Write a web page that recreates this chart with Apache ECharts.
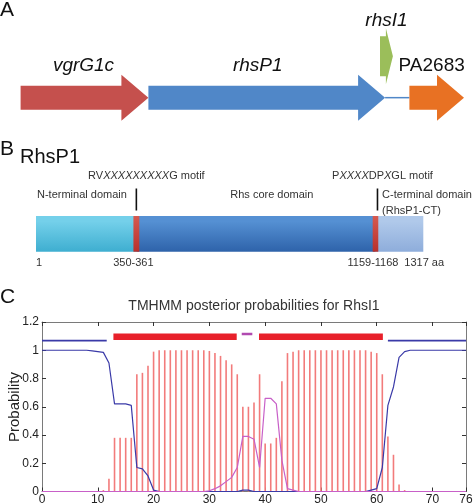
<!DOCTYPE html>
<html><head><meta charset="utf-8">
<script src="https://cdn.jsdelivr.net/npm/echarts@6/dist/echarts.min.js"></script>
<style>html,body{margin:0;padding:0;background:#fff}#c{width:474px;height:503px}</style>
</head><body><div id="c"></div>
<script>
// ---------- Panel A: gene neighbourhood (bp, approximate) ----------
const geneNames = ['vgrG1c', 'rhsP1', 'rhsI1', 'PA2683'];
const geneStart = [10, 2140, 6000, 6490];
const geneEnd   = [2140, 6085, 6215, 7400];
const geneRow   = [0, 0, 1, 0];
const spacerStart = [6085];
const spacerEnd   = [6490];

// ---------- Panel B: RhsP1 domains (aa) ----------
const domainNames = ['N-terminal domain', 'Rhs core domain', 'C-terminal domain'];
const domainStart = [1, 342, 1155];
const domainEnd   = [342, 1155, 1317];
const motifStart  = [332, 1145];
const motifEnd    = [352, 1164];
const proteinLength = 1317;

// ---------- Panel C: TMHMM posterior probabilities ----------
const positions = [0,1,2,3,4,5,6,7,8,9,10,11,12,13,14,15,16,17,18,19,20,21,22,23,24,25,26,27,28,29,30,31,32,33,34,35,36,37,38,39,40,41,42,43,44,45,46,47,48,49,50,51,52,53,54,55,56,57,58,59,60,61,62,63,64,65,66,67,68,69,70,71,72,73,74,75,76];
const tmProb = [0,0,0,0,0,0,0,0,0,0,0,0.01,0.09,0.38,0.38,0.38,0.38,0.83,0.84,0.89,0.99,
  1,1,1,1,1,1,1,1,1,0.995,0.98,0.96,0.93,0.90,0.83,0.60,0.60,0.63,0.83,0.34,0.34,0.38,0.78,0.98,0.99,
  1,1,1,1,1,1,1,1,1,1,1,1,1,0.99,0.98,0.83,0.39,0.26,0.05,0.01,0,0,0,0,0,0,0,0,0,0,0];
const outsideProb = [1,1,1,1,1,1,1,1,1,0.995,0.99,0.985,0.91,0.62,0.62,0.62,0.61,0.17,0.16,0.11,0.01,
  0,0,0,0,0,0,0,0,0,0,0,0,0,0,0,0.01,0.01,
  0,0,0,0,0,0,0,0,0,0,0,0,0,0,0,0,0,0,0,0,0,0.01,0.02,0.17,0.61,0.74,0.95,0.99,1,1,1,1,1,1,1,1,1,1,1];
const insideProb = [0,0,0,0,0,0,0,0,0,0,0,0,0,0,0,0,0,0,0,0,0,0,0,0,0,0,0,0,0,0,
  0.005,0.02,0.04,0.07,0.10,0.17,0.39,0.39,0.37,0.17,0.66,0.66,0.62,0.22,0.02,0.01,
  0,0,0,0,0,0,0,0,0,0,0,0,0,0,0,0,0,0,0,0,0,0,0,0,0,0,0,0,0,0,0];
const topoType  = ['outside', 'TMhelix', 'inside', 'TMhelix', 'outside'];
const topoStart = [0, 12.8, 35.8, 38.9, 62];
const topoEnd   = [11.6, 34.9, 37.7, 61.1, 76];
const xTicks = [0, 10, 20, 30, 40, 50, 60, 70, 76];

// ---------- styles ----------
const FONT = '"Liberation Sans", Arial, Helvetica, sans-serif';
const geneStyle = {
  vgrG1c: {color: '#c5504d', body: 24, head: 46, headLen: 27, labelDx: -1, labelDy: 32, italic: true},
  rhsP1:  {color: '#5087c8', body: 24, head: 46, headLen: 27, labelDx: -9, labelDy: 32, italic: true},
  rhsI1:  {color: '#9bbe5a', body: 40, head: 56, headLen: 7,  labelDx: 0,  labelDy: 36, italic: true},
  PA2683: {color: '#e87123', body: 24, head: 46, headLen: 27, labelDx: -5, labelDy: 32, italic: false}
};
const domainColors = {
  'N-terminal domain': ['#74d0ea', '#3eaed0'],
  'Rhs core domain':   ['#5590d3', '#2e63aa'],
  'C-terminal domain': ['#b0c9ea', '#8eaddb']
};
const topoStyle = {
  outside: {level: 1.068, color: '#3a3aa8', width: 1.6},
  TMhelix: {level: 1.095, color: '#e8202a', width: 6.5},
  inside:  {level: 1.115, color: '#b04ab0', width: 2.5}
};
const annB = [
  {aa: 1, text: 'N-terminal domain', dx: 1, dy: -21, align: 'left'},
  {aa: 748, text: 'Rhs core domain', dx: 16, dy: -21, align: 'center'},
  {aa: 1155, text: 'C-terminal domain', dx: 6.5, dy: -21, align: 'left'},
  {aa: 1155, text: '(RhsP1-CT)', dx: 6.5, dy: -5, align: 'left'},
  {aa: 342, text: '{n|RV}{i|XXXXXXXXX}{n|G motif}', dx: 10, dy: -40, align: 'center'},
  {aa: 1154.5, text: '{n|P}{i|XXXX}{n|DP}{i|X}{n|GL motif}', dx: 7, dy: -40, align: 'center'},
  {aa: 1, text: '1', dx: 0, dy: 47, align: 'left'},
  {aa: 342, text: '350-361', dx: -3, dy: 47, align: 'center'},
  {aa: 1154.5, text: '1159-1168', dx: -2.5, dy: 47, align: 'center'},
  {aa: 1317, text: '1317 aa', dx: -19, dy: 47, align: 'left'}
];

function renderGene(params, api) {
  const i = api.value(3);
  const name = geneNames[i];
  const st = geneStyle[name];
  const row = api.value(2);
  const p0 = api.coord([api.value(0), row]);
  const p1 = api.coord([api.value(1), row]);
  const b = st.body / 2, H = st.head / 2, h = st.headLen, y = p0[1];
  const pts = [[p0[0], y - b], [p1[0] - h, y - b], [p1[0] - h, y - H], [p1[0], y],
               [p1[0] - h, y + H], [p1[0] - h, y + b], [p0[0], y + b]];
  return {type: 'group', children: [
    {type: 'polygon', shape: {points: pts}, style: {fill: st.color}},
    {type: 'text', x: (p0[0] + p1[0]) / 2 + st.labelDx, y: y - st.labelDy,
     style: {text: name, fontFamily: FONT, fontSize: 19, fontStyle: st.italic ? 'italic' : 'normal',
             fill: '#111', align: 'center', verticalAlign: 'middle'}}
  ]};
}
function renderSpacer(params, api) {
  const p0 = api.coord([api.value(0), 0]);
  const p1 = api.coord([api.value(1), 0]);
  return {type: 'line', shape: {x1: p0[0], y1: p0[1], x2: p1[0], y2: p1[1]},
          style: {stroke: '#5087c8', lineWidth: 1.5}};
}
function renderDomain(params, api) {
  const name = domainNames[api.value(2)];
  const p0 = api.coord([api.value(0), 1]);
  const p1 = api.coord([api.value(1), 0]);
  const c = domainColors[name];
  return {type: 'rect', shape: {x: p0[0], y: p0[1], width: p1[0] - p0[0], height: p1[1] - p0[1]},
          style: {fill: new echarts.graphic.LinearGradient(0, 0, 0, 1, [{offset: 0, color: c[0]}, {offset: 0.15, color: c[0]}, {offset: 1, color: c[1]}])}};
}
function renderMotif(params, api) {
  const p0 = api.coord([api.value(0), 1]);
  const p1 = api.coord([api.value(1), 0]);
  const cx = (p0[0] + p1[0]) / 2;
  return {type: 'group', children: [
    {type: 'rect', shape: {x: p0[0], y: p0[1], width: p1[0] - p0[0], height: p1[1] - p0[1]},
     style: {fill: new echarts.graphic.LinearGradient(0, 0, 0, 1, [{offset: 0, color: '#d65a50'}, {offset: 1, color: '#b8302c'}])}},
    {type: 'line', shape: {x1: cx + params.dataIndex * 2, y1: p0[1] - 27.5, x2: cx + params.dataIndex * 2, y2: p0[1] - 5.5},
     style: {stroke: '#111', lineWidth: 1.6}}
  ]};
}
function renderAnnB(params, api) {
  const a = annB[api.value(1)];
  const p = api.coord([api.value(0), 1]);
  return {type: 'text', x: p[0] + a.dx, y: p[1] + a.dy,
    style: {text: a.text, fontFamily: FONT, fontSize: 11, fill: '#333', align: a.align, verticalAlign: 'middle',
      rich: {n: {fontFamily: FONT, fontSize: 11, fill: '#333'},
             i: {fontFamily: FONT, fontSize: 11, fill: '#333', fontStyle: 'italic'}}}};
}
function renderTopo(params, api) {
  const t = topoStyle[topoType[api.value(2)]];
  const p0 = api.coord([api.value(0), t.level]);
  const p1 = api.coord([api.value(1), t.level]);
  return {type: 'line', shape: {x1: p0[0], y1: p0[1], x2: p1[0], y2: p1[1]},
          style: {stroke: t.color, lineWidth: t.width, lineCap: 'butt'}};
}

const frameColor = '#7a7a7a';
const tickStyle = {show: true, inside: true, length: 4, lineStyle: {color: '#333'}};
const gridBase = {containLabel: false, outerBoundsMode: 'none'};
const option = {
  animation: false,
  backgroundColor: '#fff',
  grid: [
    Object.assign({left: 20, right: 10, top: 15, height: 124}, gridBase),
    Object.assign({left: 36, right: 50.7, top: 216, height: 35.7}, gridBase),
    Object.assign({left: 42, right: 8, top: 322, height: 169.5}, gridBase)
  ],
  xAxis: [
    {gridIndex: 0, type: 'value', min: 0, max: 7400, show: false},
    {gridIndex: 1, type: 'value', min: 1, max: proteinLength, show: false},
    {gridIndex: 2, type: 'value', min: 0, max: 76, interval: 10, position: 'bottom',
     axisLine: {show: true, onZero: false, lineStyle: {color: frameColor}},
     axisTick: Object.assign({customValues: xTicks}, tickStyle),
     axisLabel: {customValues: xTicks, margin: 2, fontSize: 12, color: '#222', fontFamily: FONT},
     splitLine: {show: false}},
    {gridIndex: 2, type: 'value', min: 0, max: 76, interval: 10, position: 'top',
     axisLine: {show: true, onZero: false, lineStyle: {color: frameColor}},
     axisTick: Object.assign({customValues: xTicks}, tickStyle),
     axisLabel: {show: false}, splitLine: {show: false}}
  ],
  yAxis: [
    {gridIndex: 0, type: 'value', min: -1, max: 2, show: false},
    {gridIndex: 1, type: 'value', min: 0, max: 1, show: false},
    {gridIndex: 2, type: 'value', min: 0, max: 1.2, interval: 0.2, position: 'left',
     axisLine: {show: true, onZero: false, lineStyle: {color: frameColor}},
     axisTick: tickStyle,
     axisLabel: {margin: 3, fontSize: 12, color: '#222', fontFamily: FONT},
     splitLine: {show: false}},
    {gridIndex: 2, type: 'value', min: 0, max: 1.2, interval: 0.2, position: 'right',
     axisLine: {show: true, onZero: false, lineStyle: {color: frameColor}},
     axisTick: tickStyle, axisLabel: {show: false}, splitLine: {show: false}}
  ],
  graphic: [
    {type: 'text', left: 0, top: 0, style: {text: 'A', fontFamily: FONT, fontSize: 21, fill: '#111'}},
    {type: 'text', left: 0, top: 139, style: {text: 'B', fontFamily: FONT, fontSize: 21, fill: '#111'}},
    {type: 'text', left: 20, top: 147, style: {text: 'RhsP1', fontFamily: FONT, fontSize: 20, fill: '#111'}},
    {type: 'text', left: 0, top: 287, style: {text: 'C', fontFamily: FONT, fontSize: 21, fill: '#111'}},
    {type: 'text', x: 254, y: 306, style: {text: 'TMHMM posterior probabilities for RhsI1', fontFamily: FONT,
      fontSize: 14, fill: '#333', align: 'center', verticalAlign: 'middle'}},
    {type: 'text', x: 15, y: 407, rotation: Math.PI / 2,
     style: {text: 'Probability', fontFamily: FONT, fontSize: 15, fill: '#222', align: 'center', verticalAlign: 'middle'}}
  ],
  series: [
    {type: 'custom', coordinateSystem: 'cartesian2d', xAxisIndex: 0, yAxisIndex: 0, renderItem: renderSpacer,
     data: spacerStart.map((s, i) => [s, spacerEnd[i]])},
    {type: 'custom', coordinateSystem: 'cartesian2d', xAxisIndex: 0, yAxisIndex: 0, renderItem: renderGene,
     encode: {x: [0, 1], y: 2},
     data: geneNames.map((n, i) => [geneStart[i], geneEnd[i], geneRow[i], i])},
    {type: 'custom', coordinateSystem: 'cartesian2d', xAxisIndex: 1, yAxisIndex: 1, renderItem: renderDomain,
     encode: {x: [0, 1]},
     data: domainNames.map((n, i) => [domainStart[i], domainEnd[i], i])},
    {type: 'custom', coordinateSystem: 'cartesian2d', xAxisIndex: 1, yAxisIndex: 1, renderItem: renderMotif,
     encode: {x: [0, 1]},
     data: motifStart.map((s, i) => [s, motifEnd[i]])},
    {type: 'custom', coordinateSystem: 'cartesian2d', xAxisIndex: 1, yAxisIndex: 1, renderItem: renderAnnB,
     data: annB.map((a, i) => [a.aa, i])},
    {type: 'bar', xAxisIndex: 2, yAxisIndex: 2, barWidth: 1.6, z: 2,
     itemStyle: {color: '#f27b7b'}, data: positions.map((x, i) => [x, tmProb[i]])},
    {type: 'line', xAxisIndex: 2, yAxisIndex: 2, symbol: 'none', z: 3,
     lineStyle: {color: '#3a3aa8', width: 1.2}, data: positions.map((x, i) => [x, outsideProb[i]])},
    {type: 'line', xAxisIndex: 2, yAxisIndex: 2, symbol: 'none', z: 4,
     lineStyle: {color: '#c860c8', width: 1.2}, data: positions.map((x, i) => [x, insideProb[i]])},
    {type: 'custom', coordinateSystem: 'cartesian2d', xAxisIndex: 2, yAxisIndex: 2, renderItem: renderTopo, z: 5,
     encode: {x: [0, 1]},
     data: topoType.map((t, i) => [topoStart[i], topoEnd[i], i])}
  ]
};
const chart = echarts.init(document.getElementById('c'), null, {renderer: 'canvas'});
chart.setOption(option);
</script>
</body></html>
